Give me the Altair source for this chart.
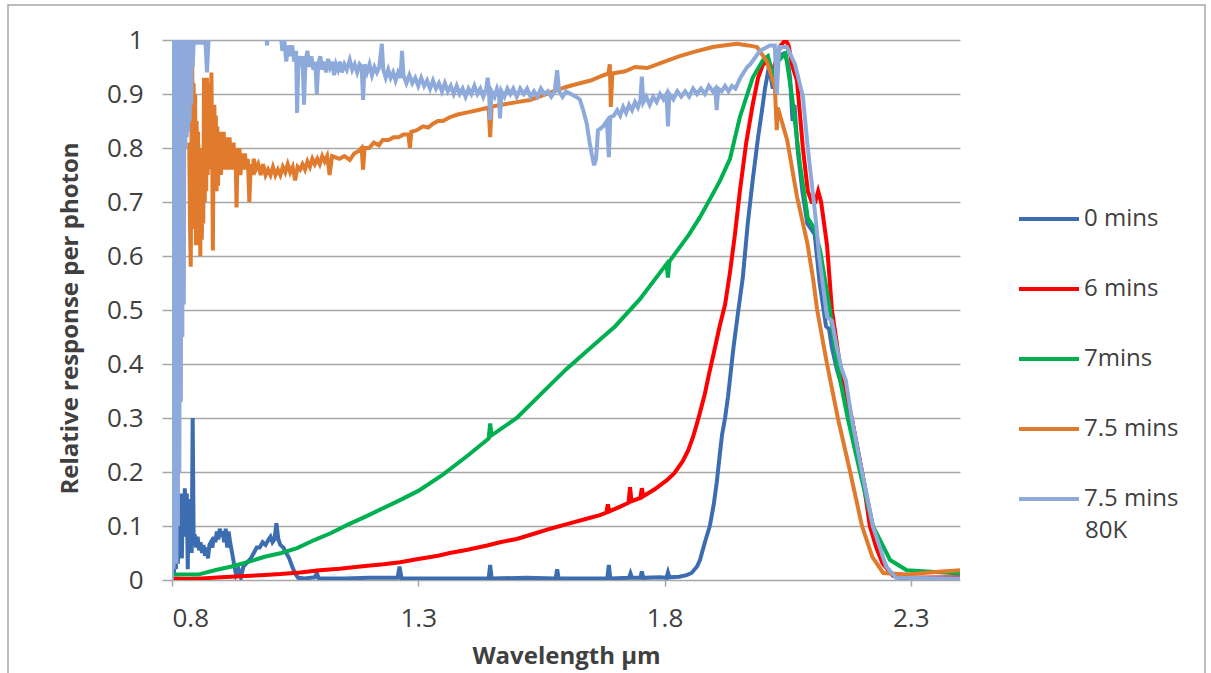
import altair as alt
import pandas as pd

series_names = ["0 mins", "6 mins", "7mins", "7.5 mins", "7.5 mins 80K"]
series_colors = ["#3d6db1", "#ff0000", "#00b050", "#e07b2d", "#8eaadb"]

# ---- 0 mins ----
wl_0 = [0.800, 0.802, 0.804, 0.806, 0.808, 0.810, 0.812, 0.814, 0.816, 0.818, 0.820, 0.822, 0.824, 0.826,
        0.828, 0.830, 0.832, 0.834, 0.836, 0.838, 0.840, 0.842, 0.844, 0.846, 0.849, 0.852, 0.855, 0.858,
        0.861, 0.864, 0.867, 0.870, 0.873, 0.876, 0.879, 0.882, 0.885, 0.888, 0.891, 0.894, 0.897, 0.900,
        0.903, 0.906, 0.909, 0.912, 0.915, 0.918, 0.922, 0.926, 0.930, 0.935, 0.940, 0.945, 0.950, 0.955,
        0.960, 0.966, 0.972, 0.978, 0.984, 0.990, 0.996, 1.000, 1.004, 1.008, 1.012, 1.016, 1.020, 1.026,
        1.032, 1.038, 1.044, 1.050, 1.056, 1.070, 1.090, 1.094, 1.098, 1.150, 1.200, 1.258, 1.262, 1.266,
        1.350, 1.443, 1.446, 1.449, 1.520, 1.579, 1.582, 1.585, 1.684, 1.687, 1.690, 1.728, 1.731, 1.734,
        1.751, 1.754, 1.757, 1.790, 1.804, 1.807, 1.810, 1.830, 1.845, 1.855, 1.866, 1.872, 1.882, 1.892,
        1.900, 1.906, 1.912, 1.917, 1.923, 1.929, 1.940, 1.950, 1.959, 1.969, 1.979, 1.990, 1.998, 2.004,
        2.010, 2.016, 2.020, 2.026, 2.032, 2.042, 2.050, 2.055, 2.060, 2.064, 2.070, 2.080, 2.090, 2.105,
        2.115, 2.128, 2.134, 2.140, 2.150, 2.160, 2.180, 2.201, 2.223, 2.240, 2.252, 2.265, 2.280, 2.400]
resp_0 = [0.00, 0.14, 0.01, 0.13, 0.02, 0.15, 0.03, 0.14, 0.05, 0.16, 0.04, 0.15, 0.08, 0.17,
          0.10, 0.16, 0.02, 0.15, 0.06, 0.12, 0.05, 0.30, 0.07, 0.085, 0.06, 0.08, 0.055, 0.07,
          0.05, 0.065, 0.045, 0.06, 0.04, 0.065, 0.07, 0.06, 0.08, 0.07, 0.09, 0.075, 0.095, 0.08,
          0.09, 0.07, 0.095, 0.06, 0.09, 0.07, 0.05, 0.03, 0.01, 0.02, 0.005, 0.025, 0.03, 0.035,
          0.04, 0.05, 0.06, 0.06, 0.07, 0.065, 0.075, 0.08, 0.07, 0.075, 0.105, 0.075, 0.065, 0.06,
          0.05, 0.04, 0.025, 0.012, 0.004, 0.003, 0.005, 0.013, 0.003, 0.003, 0.004, 0.004, 0.025, 0.003,
          0.003, 0.003, 0.028, 0.003, 0.004, 0.003, 0.02, 0.003, 0.003, 0.028, 0.003, 0.004, 0.012, 0.004,
          0.004, 0.016, 0.004, 0.005, 0.004, 0.014, 0.005, 0.006, 0.009, 0.013, 0.025, 0.037, 0.07, 0.10,
          0.14, 0.18, 0.23, 0.27, 0.30, 0.34, 0.43, 0.50, 0.56, 0.66, 0.74, 0.82, 0.87, 0.91,
          0.94, 0.93, 0.91, 0.94, 0.97, 0.975, 0.96, 0.93, 0.85, 0.88, 0.80, 0.72, 0.66, 0.64,
          0.55, 0.47, 0.465, 0.43, 0.39, 0.36, 0.30, 0.20, 0.10, 0.045, 0.022, 0.008, 0.003, 0.003]

# ---- 6 mins ----
wl_6 = [0.800, 0.830, 0.860, 0.900, 0.940, 0.980, 1.020, 1.060, 1.100, 1.140, 1.192, 1.230, 1.263, 1.300,
        1.340, 1.364, 1.400, 1.440, 1.466, 1.500, 1.540, 1.568, 1.600, 1.640, 1.669, 1.682, 1.685, 1.688,
        1.710, 1.727, 1.730, 1.733, 1.751, 1.754, 1.757, 1.780, 1.805, 1.820, 1.837, 1.848, 1.858, 1.866,
        1.872, 1.882, 1.890, 1.900, 1.912, 1.923, 1.933, 1.943, 1.953, 1.966, 1.979, 1.990, 2.000, 2.010,
        2.018, 2.026, 2.036, 2.046, 2.052, 2.060, 2.069, 2.081, 2.091, 2.099, 2.106, 2.112, 2.118, 2.130,
        2.140, 2.156, 2.168, 2.180, 2.201, 2.217, 2.230, 2.243, 2.264, 2.290, 2.400]
resp_6 = [0.003, 0.002, 0.003, 0.005, 0.007, 0.009, 0.011, 0.014, 0.018, 0.021, 0.026, 0.029, 0.033, 0.039,
          0.045, 0.050, 0.056, 0.064, 0.070, 0.076, 0.087, 0.095, 0.103, 0.113, 0.120, 0.125, 0.14, 0.127,
          0.136, 0.143, 0.172, 0.146, 0.152, 0.170, 0.155, 0.168, 0.185, 0.198, 0.22, 0.24, 0.265, 0.29,
          0.31, 0.345, 0.38, 0.42, 0.47, 0.51, 0.57, 0.64, 0.72, 0.81, 0.88, 0.93, 0.955, 0.96,
          0.94, 0.96, 0.99, 1.0, 0.99, 0.95, 0.925, 0.80, 0.72, 0.70, 0.70, 0.72, 0.70, 0.62,
          0.50, 0.40, 0.35, 0.30, 0.20, 0.10, 0.06, 0.03, 0.008, 0.004, 0.005]

# ---- 7mins ----
wl_7 = [0.800, 0.853, 0.887, 0.921, 0.953, 0.988, 1.022, 1.054, 1.089, 1.123, 1.156, 1.192, 1.263, 1.300,
        1.350, 1.400, 1.443, 1.446, 1.449, 1.500, 1.550, 1.600, 1.650, 1.700, 1.750, 1.804, 1.807, 1.810,
        1.850, 1.872, 1.906, 1.913, 1.933, 1.953, 1.979, 2.000, 2.010, 2.016, 2.022, 2.030, 2.040, 2.046,
        2.059, 2.075, 2.091, 2.105, 2.116, 2.136, 2.150, 2.172, 2.197, 2.223, 2.258, 2.292, 2.400]
resp_7 = [0.010, 0.010, 0.018, 0.025, 0.033, 0.043, 0.050, 0.059, 0.074, 0.087, 0.102, 0.117, 0.148, 0.165,
          0.195, 0.23, 0.262, 0.29, 0.268, 0.30, 0.345, 0.39, 0.43, 0.47, 0.52, 0.585, 0.56, 0.59,
          0.64, 0.672, 0.728, 0.74, 0.78, 0.857, 0.93, 0.963, 0.97, 0.95, 0.93, 0.96, 0.97, 0.975,
          0.895, 0.77, 0.67, 0.65, 0.61, 0.50, 0.40, 0.30, 0.20, 0.10, 0.037, 0.018, 0.012]

# ---- 7.5 mins ----
wl_75 = [0.835, 0.8365, 0.838, 0.8395, 0.841, 0.8425, 0.844, 0.8455, 0.847, 0.8485, 0.850, 0.8515, 0.853,
         0.8545, 0.856, 0.8575, 0.859, 0.8605, 0.862, 0.8635, 0.865, 0.8665, 0.868, 0.8695, 0.871, 0.8725,
         0.874, 0.8755, 0.877, 0.8785, 0.880, 0.8815, 0.883, 0.8845, 0.886, 0.8875, 0.889, 0.8905, 0.892,
         0.8935, 0.895, 0.8965, 0.898, 0.8995, 0.901, 0.903, 0.905, 0.907, 0.909, 0.911, 0.913, 0.915,
         0.917, 0.919, 0.921, 0.923, 0.925, 0.927, 0.929, 0.931, 0.933, 0.935, 0.937, 0.939, 0.942, 0.945,
         0.948, 0.951, 0.954, 0.957, 0.960, 0.963, 0.966, 0.970, 0.975, 0.980, 0.985, 0.990, 0.995, 1.000,
         1.005, 1.010, 1.015, 1.020, 1.025, 1.030, 1.035, 1.040, 1.045, 1.050, 1.055, 1.060, 1.065, 1.070,
         1.075, 1.080, 1.085, 1.090, 1.095, 1.100, 1.105, 1.110, 1.115, 1.120, 1.125, 1.140, 1.150, 1.161,
         1.170, 1.180, 1.185, 1.188, 1.191, 1.200, 1.210, 1.220, 1.228, 1.240, 1.250, 1.260, 1.270, 1.280,
         1.283, 1.286, 1.297, 1.310, 1.320, 1.330, 1.340, 1.350, 1.364, 1.380, 1.400, 1.420, 1.443, 1.446,
         1.449, 1.470, 1.500, 1.527, 1.560, 1.600, 1.628, 1.650, 1.669, 1.686, 1.689, 1.691, 1.694, 1.720,
         1.740, 1.765, 1.800, 1.831, 1.860, 1.898, 1.920, 1.947, 1.970, 1.988, 2.008, 2.024, 2.028, 2.030,
         2.049, 2.069, 2.090, 2.102, 2.110, 2.130, 2.152, 2.177, 2.201, 2.222, 2.244, 2.293, 2.350, 2.400]
resp_75 = [0.81, 0.66, 0.58, 0.80, 0.975, 0.70, 0.92, 0.65, 0.90, 0.62, 0.85, 0.66, 0.83,
           0.62, 0.80, 0.60, 0.78, 0.63, 0.72, 0.66, 0.93, 0.70, 0.92, 0.72, 0.93, 0.75,
           0.92, 0.78, 0.90, 0.76, 0.94, 0.80, 0.61, 0.82, 0.88, 0.74, 0.86, 0.72, 0.84,
           0.73, 0.82, 0.76, 0.83, 0.75, 0.82, 0.76, 0.83, 0.77, 0.82, 0.76, 0.81, 0.77,
           0.82, 0.76, 0.80, 0.77, 0.81, 0.76, 0.80, 0.69, 0.78, 0.76, 0.80, 0.75, 0.79, 0.76,
           0.79, 0.76, 0.78, 0.70, 0.77, 0.75, 0.78, 0.76, 0.77, 0.75, 0.77, 0.75, 0.76, 0.75,
           0.765, 0.75, 0.76, 0.75, 0.765, 0.755, 0.77, 0.755, 0.765, 0.74, 0.765, 0.76, 0.77, 0.76,
           0.775, 0.765, 0.78, 0.77, 0.78, 0.77, 0.785, 0.775, 0.785, 0.75, 0.785, 0.78, 0.785, 0.778,
           0.79, 0.795, 0.80, 0.76, 0.80, 0.80, 0.81, 0.805, 0.815, 0.815, 0.82, 0.82, 0.825, 0.825,
           0.80, 0.83, 0.833, 0.84, 0.838, 0.845, 0.85, 0.85, 0.857, 0.862, 0.866, 0.87, 0.875, 0.82,
           0.877, 0.88, 0.885, 0.889, 0.90, 0.913, 0.92, 0.925, 0.932, 0.938, 0.955, 0.876, 0.938, 0.942,
           0.95, 0.948, 0.96, 0.97, 0.978, 0.987, 0.99, 0.993, 0.99, 0.987, 0.96, 0.913, 0.833, 0.875,
           0.815, 0.71, 0.624, 0.556, 0.50, 0.40, 0.30, 0.20, 0.10, 0.043, 0.013, 0.010, 0.015, 0.018]

# ---- 7.5 mins 80K ----
wl_80 = [0.800, 0.8015, 0.803, 0.8045, 0.806, 0.8075, 0.809, 0.8105, 0.812, 0.8135, 0.815, 0.8165, 0.818,
         0.8195, 0.821, 0.8225, 0.824, 0.8255, 0.827, 0.8285, 0.830, 0.8315, 0.833, 0.8345, 0.836, 0.8375,
         0.839, 0.8405, 0.842, 0.844, 0.850, 0.860, 0.868, 0.871, 0.874, 0.880, 0.950, 0.990, 0.993, 0.997,
         1.020, 1.024, 1.028, 1.032, 1.036, 1.040, 1.044, 1.048, 1.052, 1.054, 1.057, 1.061, 1.065, 1.068,
         1.071, 1.075, 1.079, 1.083, 1.087, 1.091, 1.094, 1.097, 1.101, 1.105, 1.109, 1.113, 1.117, 1.121,
         1.125, 1.129, 1.133, 1.137, 1.141, 1.145, 1.150, 1.155, 1.161, 1.166, 1.171, 1.176, 1.181, 1.185,
         1.188, 1.191, 1.196, 1.201, 1.206, 1.211, 1.216, 1.221, 1.226, 1.229, 1.234, 1.239, 1.244, 1.249,
         1.254, 1.259, 1.264, 1.267, 1.270, 1.276, 1.282, 1.288, 1.294, 1.300, 1.306, 1.312, 1.318, 1.324,
         1.330, 1.336, 1.342, 1.348, 1.354, 1.360, 1.366, 1.372, 1.378, 1.384, 1.390, 1.396, 1.402, 1.408,
         1.414, 1.420, 1.426, 1.432, 1.438, 1.441, 1.444, 1.446, 1.449, 1.455, 1.460, 1.464, 1.466, 1.469,
         1.475, 1.481, 1.487, 1.493, 1.500, 1.507, 1.514, 1.521, 1.528, 1.535, 1.542, 1.549, 1.556, 1.563,
         1.570, 1.577, 1.582, 1.586, 1.593, 1.600, 1.610, 1.620, 1.628, 1.635, 1.642, 1.648, 1.652, 1.657,
         1.661, 1.665, 1.669, 1.675, 1.683, 1.687, 1.690, 1.697, 1.704, 1.710, 1.716, 1.722, 1.728, 1.734,
         1.740, 1.746, 1.751, 1.754, 1.757, 1.763, 1.770, 1.777, 1.784, 1.791, 1.798, 1.804, 1.807, 1.810,
         1.818, 1.826, 1.834, 1.842, 1.850, 1.858, 1.866, 1.874, 1.882, 1.890, 1.898, 1.903, 1.906, 1.909,
         1.916, 1.923, 1.930, 1.937, 1.944, 1.954, 1.961, 1.968, 1.974, 1.994, 2.014, 2.024, 2.028, 2.033,
         2.049, 2.065, 2.081, 2.091, 2.102, 2.108, 2.114, 2.124, 2.130, 2.140, 2.150, 2.160, 2.168, 2.180,
         2.201, 2.223, 2.250, 2.270, 2.400]
resp_80 = [0.00, 1.05, 0.02, 1.05, 0.05, 1.05, 0.03, 1.05, 0.10, 1.05, 0.20, 1.05, 0.33,
           1.05, 0.45, 1.05, 0.51, 1.00, 0.80, 1.05, 0.82, 1.00, 0.83, 1.05, 0.85, 1.00,
           0.88, 1.05, 0.95, 0.995, 0.995, 0.995, 0.995, 0.94, 0.995, 1.05, 1.08, 1.05, 0.99, 1.05,
           1.02, 0.98, 1.00, 0.96, 0.99, 0.97, 0.99, 0.96, 0.98, 0.865, 0.97, 0.95, 0.97, 0.88,
           0.96, 0.98, 0.95, 0.97, 0.945, 0.96, 0.90, 0.955, 0.97, 0.945, 0.96, 0.94, 0.965, 0.95,
           0.96, 0.935, 0.955, 0.945, 0.96, 0.94, 0.955, 0.945, 0.963, 0.945, 0.955, 0.94, 0.955, 0.95,
           0.889, 0.955, 0.94, 0.955, 0.935, 0.95, 0.94, 0.95, 0.993, 0.945, 0.93, 0.945, 0.93, 0.94,
           0.925, 0.94, 0.93, 0.98, 0.935, 0.92, 0.935, 0.92, 0.93, 0.915, 0.93, 0.915, 0.925, 0.91,
           0.925, 0.91, 0.92, 0.905, 0.92, 0.905, 0.915, 0.90, 0.915, 0.90, 0.91, 0.895, 0.91, 0.90,
           0.915, 0.90, 0.91, 0.895, 0.91, 0.93, 0.90, 0.852, 0.905, 0.895, 0.91, 0.90, 0.855, 0.905,
           0.895, 0.91, 0.90, 0.91, 0.895, 0.91, 0.90, 0.91, 0.895, 0.905, 0.895, 0.91, 0.90, 0.905,
           0.895, 0.905, 0.944, 0.905, 0.895, 0.905, 0.90, 0.895, 0.89, 0.87, 0.846, 0.81, 0.79, 0.768,
           0.78, 0.833, 0.835, 0.84, 0.85, 0.783, 0.857, 0.86, 0.87, 0.86, 0.876, 0.865, 0.88, 0.87,
           0.885, 0.875, 0.889, 0.932, 0.885, 0.895, 0.88, 0.895, 0.885, 0.90, 0.89, 0.90, 0.84, 0.90,
           0.89, 0.905, 0.895, 0.905, 0.895, 0.91, 0.90, 0.91, 0.90, 0.915, 0.905, 0.91, 0.87, 0.91,
           0.905, 0.915, 0.905, 0.915, 0.91, 0.93, 0.94, 0.95, 0.955, 0.98, 0.99, 0.99, 0.90, 0.987,
           0.987, 0.955, 0.895, 0.80, 0.71, 0.66, 0.60, 0.53, 0.487, 0.48, 0.43, 0.39, 0.37, 0.30,
           0.20, 0.10, 0.025, 0.004, 0.003]

x_ticks = [0.8, 1.3, 1.8, 2.3]
y_ticks = [0, 0.1, 0.2, 0.3, 0.4, 0.5, 0.6, 0.7, 0.8, 0.9, 1.0]

all_wl = [wl_0, wl_6, wl_7, wl_75, wl_80]
all_resp = [resp_0, resp_6, resp_7, resp_75, resp_80]
frames = []
for name, wl, rs in zip(series_names, all_wl, all_resp):
    frames.append(pd.DataFrame({"series": name, "wl": wl, "resp": rs, "idx": range(len(wl))}))
df = pd.concat(frames, ignore_index=True)

FONT = "Open Sans"

color_enc = alt.Color(
    "series:N",
    scale=alt.Scale(domain=series_names, range=series_colors),
    legend=alt.Legend(
        title=None, orient="none", legendX=845, legendY=147,
        symbolType="stroke", symbolSize=3600, symbolStrokeWidth=4,
        labelFont=FONT, labelFontSize=24, labelColor="#404040",
        labelOffset=3, labelBaseline="middle", rowPadding=26, padding=0,
        labelLimit=300,
        labelExpr="datum.label == '7.5 mins 80K' ? '7.5 mins' : datum.label",
    ),
)
x_enc = alt.X("wl:Q", scale=alt.Scale(domain=[0.8, 2.4], nice=False, zero=False),
              axis=alt.Axis(values=x_ticks, format=".1f", title="Wavelength µm",
                            grid=False, tickSize=6, labelPadding=19, titlePadding=13))
y_enc = alt.Y("resp:Q", scale=alt.Scale(domain=[0, 1], nice=False),
              axis=alt.Axis(values=y_ticks, format="~g", title="Relative response per photon",
                            tickSize=10, labelPadding=19, titlePadding=24, titleY=278))

layers = []
for name in series_names:
    layers.append(
        alt.Chart(df).transform_filter(alt.datum.series == name)
        .mark_line(strokeWidth=4, clip=True)
        .encode(x=x_enc, y=y_enc, color=color_enc, order="idx:Q")
    )

frame = alt.Chart(pd.DataFrame({"a": [0]})).mark_rect(
    fill="white", fillOpacity=0, stroke="#a6a6a6", strokeWidth=1.5, clip=False
).encode(x=alt.value(-164), x2=alt.value(1033), y=alt.value(-35), y2=alt.value(700))

# second line of the last legend entry ("7.5 mins" / "80K")
legend_line2 = alt.Chart(pd.DataFrame({"t": ["80K"]})).mark_text(
    font=FONT, fontSize=24, color="#404040", align="left", baseline="middle", clip=False
).encode(text="t:N", x=alt.value(913), y=alt.value(491))

chart = alt.layer(frame, *layers, legend_line2).properties(
    width=788, height=540,
    autosize=alt.AutoSizeParams(type="none"),
    padding={"left": 172, "top": 40, "right": 251, "bottom": 93},
).configure_view(stroke=None).configure_axis(
    labelFont=FONT, labelFontSize=26, labelColor="#404040",
    titleFont=FONT, titleFontSize=24, titleFontWeight="bold", titleColor="#404040",
    gridColor="#a6a6a6", gridWidth=1.5, domain=False, tickColor="#a6a6a6", tickWidth=1.5,
)

chart.save("out.html", embed_options={"renderer": "svg", "actions": False})
